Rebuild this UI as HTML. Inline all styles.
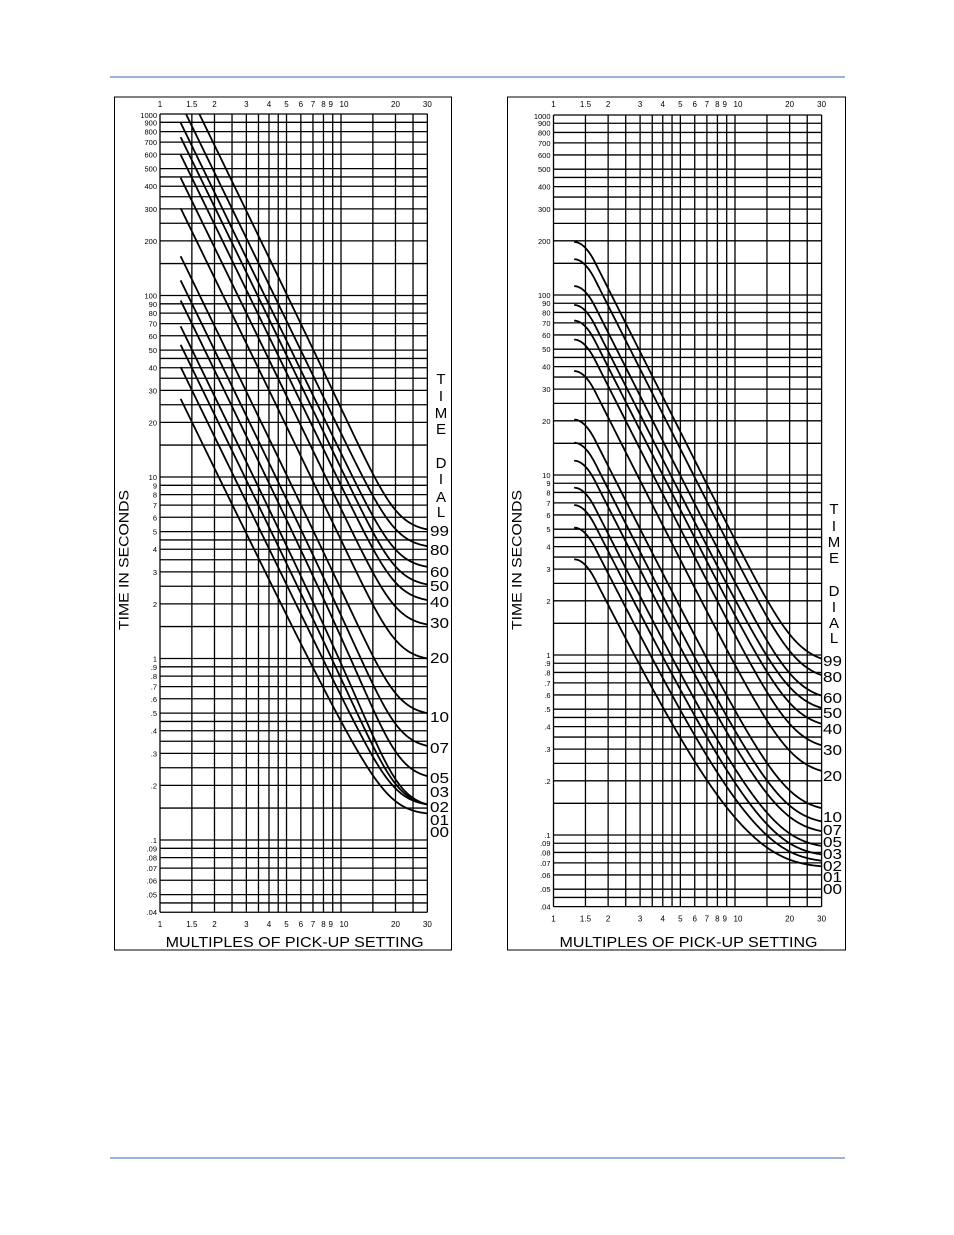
<!DOCTYPE html>
<html><head><meta charset="utf-8">
<style>
html,body{margin:0;padding:0;background:#fff;}
svg{display:block;}
text{font-family:"Liberation Sans",sans-serif;fill:#000;}
</style></head>
<body>
<svg id="s" width="954" height="1235" xmlns="http://www.w3.org/2000/svg"></svg>
<script>
const S=document.getElementById('s');
let out='';
out+='<line x1="110" y1="77" x2="845" y2="77" stroke="#9ab3d9" stroke-width="2"/>';
out+='<line x1="110" y1="1158" x2="845" y2="1158" stroke="#9ab3d9" stroke-width="2"/>';
const L10=Math.log10;
function chart(c){
  const X=m=>c.x0+c.dx*L10(m), Y=t=>c.y0+c.dy*(3-L10(t));
  const yb=Y(0.04), xr=X(30);
  out+=`<rect x="${c.bx}" y="97" width="${c.bw}" height="853" fill="none" stroke="#000" stroke-width="1"/>`;
  const xs=[1,1.5,2,2.5,3,3.5,4,4.5,5,6,7,8,9,10,15,20,25,30];
  xs.forEach(m=>{out+=`<line x1="${X(m)}" y1="${Y(1000)}" x2="${X(m)}" y2="${yb}" stroke="#000" stroke-width="1.3"/>`;});
  const mant=[1,1.5,2,2.5,3,3.5,4,4.5,5,6,7,8,9];
  [0.01,0.1,1,10,100,1000].forEach(d=>mant.forEach(k=>{const t=+(d*k).toPrecision(3);if(t>=0.04-1e-9&&t<=1000){out+=`<line x1="${X(1)}" y1="${Y(t)}" x2="${xr}" y2="${Y(t)}" stroke="#000" stroke-width="1.3"/>`;}}));
  const xl=[[1,'1'],[1.5,'1.5'],[2,'2'],[3,'3'],[4,'4'],[5,'5'],[6,'6'],[7,'7'],[8,'8'],[9,'9'],[10,'10'],[20,'20'],[30,'30']];
  xl.forEach(([m,s])=>{let x=X(m);if(m==9)x-=2;if(m==10)x+=3;
    out+=`<text x="${x}" y="107" font-size="8" text-anchor="middle">${s}</text>`;
    out+=`<text x="${x}" y="${yb+15}" font-size="8" text-anchor="middle">${s}</text>`;});
  const yl=[1000,900,800,700,600,500,400,300,200,100,90,80,70,60,50,40,30,20,10,9,8,7,6,5,4,3,2,1,.9,.8,.7,.6,.5,.4,.3,.2,.1,.09,.08,.07,.06,.05,.04];
  yl.forEach(t=>{let s=t>=1?String(t):String(t).replace(/^0/,'');let y=Y(t)+3;
    if(t==1000)y+=1;
    out+=`<text x="${X(1)-3}" y="${y}" font-size="7.5" text-anchor="end">${s}</text>`;});
  const yc=560;
  out+=`<text transform="translate(${c.bx+14},${yc}) rotate(-90)" font-size="14" text-anchor="middle" textLength="140" lengthAdjust="spacingAndGlyphs">TIME IN SECONDS</text>`;
  out+=`<text x="${(X(1)+xr)/2+1}" y="947" font-size="14.5" text-anchor="middle" textLength="258" lengthAdjust="spacingAndGlyphs">MULTIPLES OF PICK-UP SETTING</text>`;
  c.letters.forEach(([ch,y])=>{out+=`<text x="${c.lx+1}" y="${y+6}" font-size="15" text-anchor="middle">${ch}</text>`;});
  c.nums.forEach(([s,y])=>{out+=`<text x="${c.lx-10}" y="${y+6}" font-size="15" textLength="19" lengthAdjust="spacingAndGlyphs">${s}</text>`;});
  const cid='c'+c.bx;
  out+=`<clipPath id="${cid}"><rect x="${X(1)}" y="${Y(1000)}" width="${xr-X(1)}" height="${yb-Y(1000)}"/></clipPath><g clip-path="url(#${cid})" fill="none" stroke="#000" stroke-width="1.8">`;
  c.curves.forEach(cv=>{
    const h=c.h, m1=cv.ms||1.306, t1=cv.ts;
    const h1=h(m1), h2=h(30);
    const A=(t1-cv.te)/(h1-h2), B=cv.te-A*h2;
    let d='';
    for(let i=0;i<=300;i++){const u=L10(1.3)+(L10(30)-L10(1.3))*i/300;const m=Math.pow(10,u);
      let t=A*h(m)+B; if(t<=0)t=1e-3;
      d+=(i?'L':'M')+X(m).toFixed(2)+','+Y(t).toFixed(2);}
    out+=`<path d="${d}"/>`;
  });
  out+='</g>';
}
function smin(m,K,p){return Math.pow(Math.pow(m,-p)+Math.pow(K,-p),-1/p);}
chart({x0:160,dx:181,y0:114,dy:181.5,bx:114.5,bw:337,lx:440,
 h:m=>{const e=smin(m,20,6);return Math.pow(e,-2.05);},
 letters:[['T',378],['I',395],['M',412],['E',428],['D',462],['I',478],['A',496],['L',511]],
 nums:[['99',530],['80',549],['60',571],['50',585],['40',601],['30',622],['20',657],['10',716],['07',747],['05',777],['03',791],['02',806],['01',819],['00',831]],
 curves:[{ms:1.649,ts:1000,te:5.14},{ms:1.392,ts:1000,te:4.16},{ts:887,te:3.2},{ts:739,te:2.56},{ts:591,te:2.1},{ts:441,te:1.54},{ts:300,te:1.0},{ts:163,te:0.5},{ts:120,te:0.33},{ts:93,te:0.225},{ts:67,te:0.157},{ts:53,te:0.157},{ts:40,te:0.157},{ts:26.7,te:0.14}]
});
const u0=L10(1.3),u1=L10(1.7);
chart({x0:553.5,dx:181.5,y0:115,dy:180,bx:507.5,bw:338,lx:833,
 h:m=>{const e=smin(m,22,5);let u=L10(m);let lg;
   if(u<u1){lg=-(u-u0)*(u-u0)/(u1-u0);}else{lg=-(u1-u0)-2*(L10(e)-u1);}
   return Math.pow(10,lg);},
 letters:[['T',508],['I',525],['M',541],['E',557],['D',590],['I',606],['A',622],['L',637]],
 nums:[['99',660],['80',676],['60',697],['50',712],['40',728],['30',749],['20',775],['10',816],['07',829],['05',841],['03',853],['02',865],['01',876],['00',888]],
 curves:[{ts:197,te:0.954},{ts:158,te:0.773},{ts:112,te:0.594},{ts:88,te:0.508},{ts:72,te:0.415},{ts:56.5,te:0.315},{ts:37.8,te:0.227},{ts:20.3,te:0.141},{ts:15.1,te:0.119},{ts:12,te:0.105},{ts:8.5,te:0.087},{ts:6.8,te:0.078},{ts:5.1,te:0.072},{ts:3.4,te:0.067}].map(o=>({ms:1.3,ts:o.ts,te:o.te}))
});
S.innerHTML=out;
</script>
</body></html>
